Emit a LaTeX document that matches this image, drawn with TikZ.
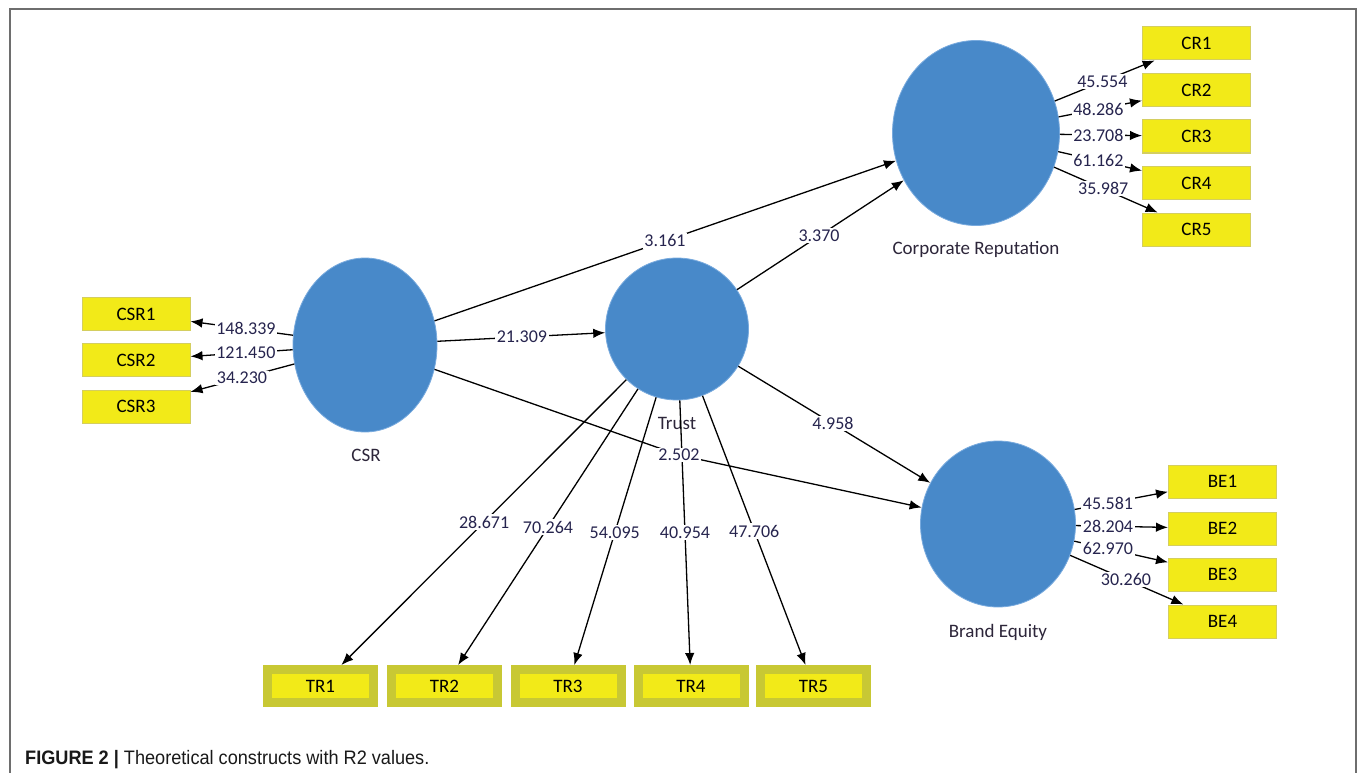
\documentclass[tikz,border=0pt]{standalone}
\usepackage{fontspec}
\setmainfont{Carlito}
\newfontfamily\capfont[FakeStretch=0.93]{Liberation Sans}
\usetikzlibrary{arrows.meta,shapes.geometric,calc}
\definecolor{lvblue}{RGB}{72,137,201}
\definecolor{lvedge}{RGB}{120,170,222}
\definecolor{indfill}{RGB}{242,234,24}
\definecolor{indedge}{RGB}{212,206,96}
\definecolor{trolive}{RGB}{200,200,52}
\definecolor{numcol}{RGB}{38,36,78}
\definecolor{namecol}{RGB}{45,38,58}
\definecolor{framecol}{RGB}{110,110,110}
\begin{document}
\begin{tikzpicture}[x=1pt,y=-1pt,
  lv/.style={ellipse, fill=lvblue, draw=lvedge, line width=0.8pt, inner sep=0pt},
  ind/.style={rectangle, fill=indfill, draw=indedge, line width=1pt, minimum width=108pt, minimum height=33pt, inner sep=0pt, font=\fontsize{19}{22}\selectfont, text=black},
  trind/.style={rectangle, fill=indfill, draw=trolive, line width=9pt, minimum width=106pt, minimum height=33pt, inner sep=0pt, font=\fontsize{19}{22}\selectfont, text=black},
  arr/.style={-{Latex[length=12pt,width=9.5pt]}, line width=1.3pt, black},
  lbl/.style={fill=white, inner sep=1.5pt, text=numcol, font=\fontsize{18}{21}\selectfont},
  lvname/.style={font=\fontsize{19}{22}\selectfont, text=namecol},
  framestyle/.style={draw=framecol, line width=1.8pt}]
\useasboundingbox (0,0) rectangle (1357,773);
\fill[white] (0,0) rectangle (1357,773);
\draw[framestyle] (10,773) -- (10,9) -- (1356,9) -- (1356,773);

% latent variables
\node[lv, minimum width=144pt, minimum height=174pt] (csr) at (365,345) {};
\node[lv, minimum width=143pt, minimum height=142pt] (trust) at (677,329) {};
\node[lv, minimum width=167pt, minimum height=185pt] (cr) at (976,133) {};
\node[lv, minimum width=155pt, minimum height=166pt] (be) at (998,524) {};

\node[lvname] (csrname) at (366,455) {CSR};
\node[lvname] (trustname) at (677,423) {Trust};
\node[lvname] (crname) at (976,249) {Corporate Reputation};
\node[lvname] (bename) at (998,632) {Brand Equity};

% indicators
\node[ind] (csr1) at (136,314) {CSR1};
\node[ind] (csr2) at (136,360) {CSR2};
\node[ind] (csr3) at (136,406.5) {CSR3};

\node[ind] (cr1) at (1196.5,43.5) {CR1};
\node[ind] (cr2) at (1196.5,90) {CR2};
\node[ind] (cr3) at (1196.5,136.5) {CR3};
\node[ind] (cr4) at (1196.5,183) {CR4};
\node[ind] (cr5) at (1196.5,229.5) {CR5};

\node[ind] (be1) at (1222.5,481.5) {BE1};
\node[ind] (be2) at (1222.5,528.5) {BE2};
\node[ind] (be3) at (1222.5,574.5) {BE3};
\node[ind] (be4) at (1222.5,621.5) {BE4};

\node[trind] (tr1) at (320.5,686) {TR1};
\node[trind] (tr2) at (444.5,686) {TR2};
\node[trind] (tr3) at (568,686) {TR3};
\node[trind] (tr4) at (691,686) {TR4};
\node[trind] (tr5) at (813.5,686) {TR5};

% structural paths
\coordinate (bend) at (679,455);
\draw[arr] (csr) -- (cr);
\draw[arr] (csr) -- (trust);
\draw[arr] (csr) -- (bend) -- (be);
\draw[arr] (trust) -- (cr);
\draw[arr] (trust) -- (be);

% loadings
\foreach \t in {tr1,tr2,tr3,tr4,tr5} \draw[arr] (trust) -- (\t);
\foreach \t in {cr1,cr2,cr3,cr4,cr5} \draw[arr] (cr) -- (\t);
\foreach \t in {csr1,csr2,csr3} \draw[arr] (csr) -- (\t);
\foreach \t in {be1,be2,be3,be4} \draw[arr] (be) -- (\t);

% labels
\node[lbl] (l-csr-cr) at ($(csr)!0.491!(cr)$) {3.161};
\node[lbl] (l-csr-trust) at ($(csr)!0.503!(trust)$) {21.309};
\node[lbl] (l-csr-be) at (bend) {2.502};
\node[lbl] (l-trust-cr) at ($(trust)!0.475!(cr)$) {3.370};
\node[lbl] (l-trust-be) at ($(trust)!0.486!(be)$) {4.958};

\node[lbl] (l-tr1) at ($(trust)!0.541!(tr1)$) {28.671};
\node[lbl] (l-tr2) at ($(trust)!0.555!(tr2)$) {70.264};
\node[lbl] (l-tr3) at ($(trust)!0.571!(tr3)$) {54.095};
\node[lbl] (l-tr4) at ($(trust)!0.571!(tr4)$) {40.954};
\node[lbl] (l-tr5) at ($(trust)!0.566!(tr5)$) {47.706};

\node[lbl] (l-cr1) at ($(cr)!0.573!(cr1)$) {45.554};
\node[lbl] (l-cr2) at ($(cr)!0.555!(cr2)$) {48.286};
\node[lbl] (l-cr3) at ($(cr)!0.555!(cr3)$) {23.708};
\node[lbl] (l-cr4) at ($(cr)!0.555!(cr4)$) {61.162};
\node[lbl] (l-cr5) at ($(cr)!0.577!(cr5)$) {35.987};

\node[lbl] (l-csr1) at ($(csr)!0.52!(csr1)$) {148.339};
\node[lbl] (l-csr2) at ($(csr)!0.52!(csr2)$) {121.450};
\node[lbl] (l-csr3) at ($(csr)!0.537!(csr3)$) {34.230};

\node[lbl] (l-be1) at ($(be)!0.49!(be1)$) {45.581};
\node[lbl] (l-be2) at ($(be)!0.49!(be2)$) {28.204};
\node[lbl] (l-be3) at ($(be)!0.49!(be3)$) {62.970};
\node[lbl] (l-be4) at ($(be)!0.57!(be4)$) {30.260};

% caption
\node[anchor=base west, inner sep=0pt, font=\capfont\fontsize{19.5}{22}\selectfont, text=black!90] (caption) at (25,764) {\textbf{FIGURE 2 |} Theoretical constructs with R2 values.};
\end{tikzpicture}
\end{document}
